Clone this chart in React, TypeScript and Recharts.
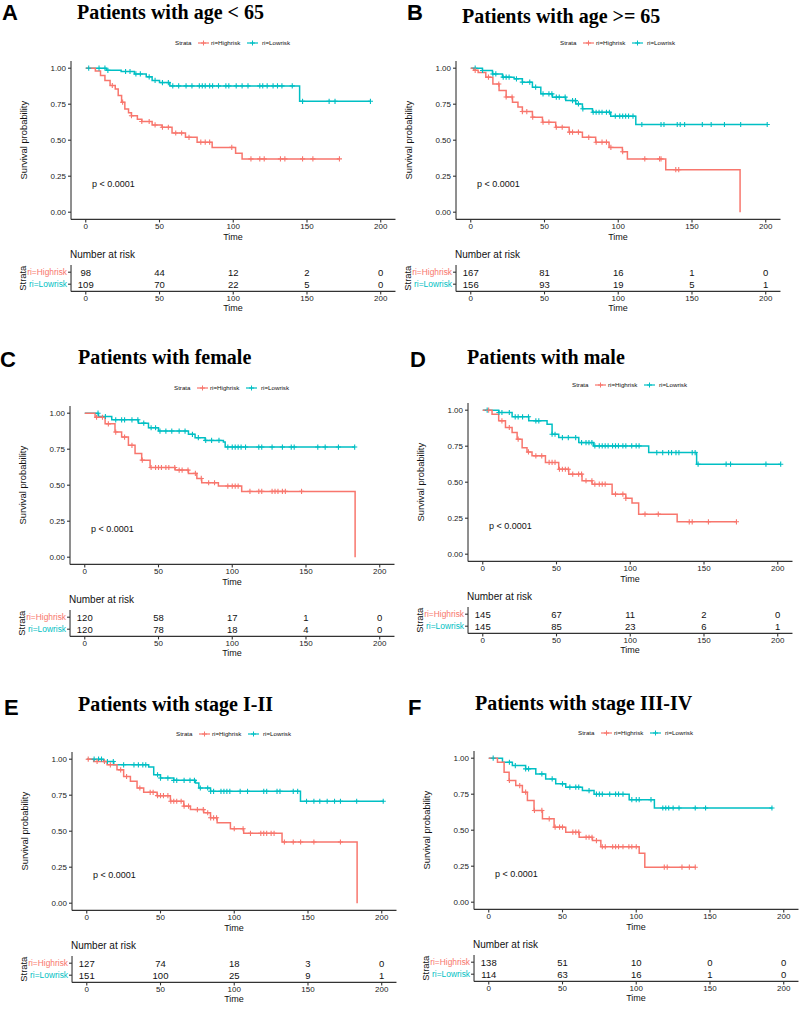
import React from 'react';
import { ComposedChart, ScatterChart, Line, Scatter, XAxis, YAxis } from 'recharts';

const RED = '#F8766D';
const BLUE = '#00BFC4';
const SANS = '"Liberation Sans", Arial, Helvetica, sans-serif';
const SERIF = '"Liberation Serif", "Times New Roman", serif';

const strata = ['ri=Highrisk', 'ri=Lowrisk'];
const timeTicks = [0, 50, 100, 150, 200];
const survTicks = [0, 0.25, 0.5, 0.75, 1];
const riskTimes = [0, 50, 100, 150, 200];

// A: age < 65
const aHighSteps = [[0, 1], [6.5, 0.98], [10, 0.95], [13, 0.915], [16.5, 0.88], [20, 0.856], [22, 0.81], [24.3, 0.764], [26.5, 0.717], [29, 0.69], [31, 0.67], [35, 0.645], [38, 0.63], [45, 0.606], [51.7, 0.59], [58.5, 0.55], [67.6, 0.52], [75.5, 0.486], [85.7, 0.45], [101.6, 0.41], [106, 0.37], [172, 0.37]];
const aLowSteps = [[0, 1], [14, 0.985], [24, 0.977], [33, 0.96], [41, 0.94], [45, 0.915], [50, 0.9], [57, 0.877], [145, 0.77], [193, 0.77]];
const aHighCensor = [18, 25, 31, 38, 43, 47, 52, 56, 61, 65, 70, 78, 81, 84, 99, 112, 118, 121, 132, 135, 147, 154, 172];
const aLowCensor = [2, 9, 13, 15, 27, 30, 34, 37, 43, 47, 52, 56, 59, 63, 68, 72, 77, 79, 81, 84, 86, 90, 95, 97, 102, 106, 110, 118, 120, 123, 127, 130, 133, 140, 147, 165, 169, 193];
const aRiskHigh = [98, 44, 12, 2, 0];
const aRiskLow = [109, 70, 22, 5, 0];

// B: age >= 65
const bHighSteps = [[0, 1], [2, 0.985], [5, 0.97], [10.2, 0.938], [15, 0.89], [19.2, 0.845], [24, 0.8], [28.3, 0.764], [32, 0.73], [35, 0.699], [41.8, 0.66], [48.6, 0.625], [57.6, 0.59], [66.7, 0.556], [75.7, 0.52], [84.7, 0.486], [93.8, 0.45], [102.8, 0.42], [106.2, 0.37], [132.2, 0.295], [182.6, 0]];
const bLowSteps = [[0, 1], [7.9, 0.984], [14.7, 0.96], [21.5, 0.938], [29.4, 0.926], [35, 0.903], [41.8, 0.868], [47.5, 0.822], [55.4, 0.799], [64.4, 0.775], [71.2, 0.752], [75.7, 0.718], [82.5, 0.694], [94.9, 0.667], [111.9, 0.609], [201, 0.609]];
const bHighCensor = [3, 12, 19, 24, 28, 35, 38, 42, 49, 53, 58, 62, 67, 69, 73, 80, 85, 89, 92, 95, 103, 118, 128, 129, 139, 141];
const bLowCensor = [3, 8, 15, 17, 22, 24, 26, 31, 35, 40, 44, 49, 53, 55, 58, 60, 64, 69, 71, 73, 76, 83, 85, 87, 89, 92, 94, 98, 101, 103, 105, 107, 110, 116, 129, 131, 140, 142, 145, 157, 163, 172, 183, 201];
const bRiskHigh = [167, 81, 16, 1, 0];
const bRiskLow = [156, 93, 19, 5, 1];

// C: female
const cHighSteps = [[0, 1], [7, 0.972], [13.8, 0.926], [20.5, 0.869], [25, 0.834], [29.6, 0.777], [34.1, 0.72], [38.6, 0.674], [44.3, 0.623], [61.3, 0.605], [70.3, 0.582], [76, 0.547], [79.3, 0.517], [90.6, 0.494], [106.4, 0.457], [183.3, 0]];
const cLowSteps = [[0, 1], [9.3, 0.977], [18.3, 0.954], [36.4, 0.931], [43.2, 0.899], [50, 0.876], [70.3, 0.853], [74.8, 0.83], [81.6, 0.811], [94, 0.8], [95.2, 0.765], [183.3, 0.765]];
const cHighCensor = [8, 12, 16, 21, 27, 32, 39, 45, 48, 50, 52, 55, 57, 61, 64, 66, 70, 75, 79, 84, 88, 97, 100, 102, 104, 112, 118, 120, 127, 129, 131, 134, 136, 147];
const cLowCensor = [9, 14, 21, 25, 27, 32, 36, 40, 45, 48, 51, 55, 59, 64, 68, 73, 77, 82, 86, 91, 97, 100, 102, 104, 106, 109, 118, 120, 127, 134, 140, 142, 158, 163, 172, 183];
const cRiskHigh = [120, 58, 17, 1, 0];
const cRiskLow = [120, 78, 18, 4, 0];

// D: male
const dHighSteps = [[0, 1], [6.3, 0.972], [10.8, 0.926], [15.4, 0.88], [19.9, 0.845], [23.3, 0.799], [26.7, 0.74], [30, 0.71], [33.4, 0.683], [42.5, 0.637], [51.5, 0.59], [58.3, 0.556], [67.3, 0.51], [74.1, 0.486], [87.7, 0.417], [97, 0.388], [101.2, 0.355], [105.7, 0.278], [131.8, 0.225], [172.4, 0.225]];
const dLowSteps = [[0, 1], [10.8, 0.984], [19.9, 0.954], [31.2, 0.926], [43.6, 0.903], [47, 0.833], [51.5, 0.81], [65.1, 0.775], [75.2, 0.752], [112.5, 0.706], [145, 0.625], [202, 0.625]];
const dHighCensor = [4, 13, 18, 24, 31, 36, 40, 45, 47, 49, 52, 54, 56, 58, 61, 65, 67, 70, 74, 76, 79, 81, 83, 90, 95, 97, 110, 119, 140, 142, 153, 172];
const dLowCensor = [3, 11, 13, 18, 22, 24, 27, 31, 36, 38, 47, 49, 54, 58, 63, 67, 70, 72, 74, 76, 79, 81, 83, 85, 88, 90, 92, 95, 97, 101, 104, 106, 118, 122, 126, 128, 131, 133, 142, 144, 146, 165, 168, 192, 202];
const dRiskHigh = [145, 67, 11, 2, 0];
const dRiskLow = [145, 85, 23, 6, 1];

// E: stage I-II
const eHighSteps = [[0, 1], [4.7, 0.984], [13.8, 0.961], [20.5, 0.926], [25, 0.88], [29.6, 0.846], [34.1, 0.8], [38.6, 0.77], [47.7, 0.747], [56.7, 0.708], [65.8, 0.674], [70.3, 0.65], [79.3, 0.628], [83.9, 0.593], [88.4, 0.559], [97.4, 0.517], [106.4, 0.485], [132.4, 0.425], [183.3, 0]];
const eLowSteps = [[0, 1], [11.5, 0.984], [18.3, 0.961], [42, 0.945], [45.4, 0.892], [50, 0.869], [59, 0.853], [73.7, 0.835], [76, 0.8], [83.9, 0.777], [144.9, 0.708], [201.4, 0.708]];
const eHighCensor = [1, 7, 12, 16, 23, 27, 36, 43, 45, 48, 50, 52, 55, 57, 59, 61, 64, 66, 69, 75, 79, 82, 84, 86, 88, 100, 106, 111, 118, 120, 122, 125, 127, 134, 140, 145, 154, 172];
const eLowCensor = [5, 8, 10, 14, 18, 25, 32, 35, 38, 40, 48, 50, 55, 59, 61, 66, 70, 73, 77, 82, 84, 86, 91, 93, 95, 97, 104, 109, 120, 122, 129, 131, 140, 143, 149, 154, 158, 163, 168, 172, 183, 201];
const eRiskHigh = [127, 74, 18, 3, 0];
const eRiskLow = [151, 100, 25, 9, 1];

// F: stage III-IV
const fHighSteps = [[0, 1], [5.9, 0.972], [10.4, 0.903], [13.8, 0.845], [18.3, 0.81], [22.8, 0.764], [26.2, 0.706], [30.7, 0.637], [36.4, 0.579], [44.3, 0.521], [52.2, 0.486], [61.3, 0.451], [70.3, 0.428], [76, 0.385], [102, 0.34], [105.8, 0.243], [140.4, 0.243]];
const fLowSteps = [[0, 1], [9.3, 0.972], [16, 0.949], [25, 0.926], [31.9, 0.891], [38.6, 0.856], [45.4, 0.822], [52.2, 0.799], [63.5, 0.775], [71.4, 0.75], [95.2, 0.712], [112.3, 0.654], [192.3, 0.654]];
const fHighCensor = [14, 21, 25, 31, 36, 41, 45, 48, 50, 57, 59, 61, 66, 68, 70, 73, 77, 79, 84, 86, 88, 91, 95, 97, 100, 119, 121, 131, 136, 140];
const fLowCensor = [3, 14, 18, 25, 27, 36, 43, 50, 55, 59, 61, 68, 73, 75, 77, 82, 86, 88, 91, 97, 100, 102, 110, 118, 120, 122, 125, 129, 140, 147, 192];
const fRiskHigh = [138, 51, 10, 0, 0];
const fRiskLow = [114, 63, 16, 1, 0];

const panels = [
  { letter: 'A', title: 'Patients with age < 65', high: aHighSteps, low: aLowSteps, highCensor: aHighCensor, lowCensor: aLowCensor, riskHigh: aRiskHigh, riskLow: aRiskLow },
  { letter: 'B', title: 'Patients with age >= 65', high: bHighSteps, low: bLowSteps, highCensor: bHighCensor, lowCensor: bLowCensor, riskHigh: bRiskHigh, riskLow: bRiskLow },
  { letter: 'C', title: 'Patients with female', high: cHighSteps, low: cLowSteps, highCensor: cHighCensor, lowCensor: cLowCensor, riskHigh: cRiskHigh, riskLow: cRiskLow },
  { letter: 'D', title: 'Patients with male', high: dHighSteps, low: dLowSteps, highCensor: dHighCensor, lowCensor: dLowCensor, riskHigh: dRiskHigh, riskLow: dRiskLow },
  { letter: 'E', title: 'Patients with stage I-II', high: eHighSteps, low: eLowSteps, highCensor: eHighCensor, lowCensor: eLowCensor, riskHigh: eRiskHigh, riskLow: eRiskLow },
  { letter: 'F', title: 'Patients with stage III-IV', high: fHighSteps, low: fLowSteps, highCensor: fHighCensor, lowCensor: fLowCensor, riskHigh: fRiskHigh, riskLow: fRiskLow },
];

// page positions: y-axis line x, top of plot area, title and letter baselines
const layout = {
  A: { x: 71, top: 61, titleX: 77, titleY: 19, letterX: 2, letterY: 20 },
  B: { x: 456, top: 61, titleX: 462, titleY: 23, letterX: 407, letterY: 20 },
  C: { x: 70, top: 406, titleX: 78, titleY: 364, letterX: 0, letterY: 367 },
  D: { x: 468, top: 403, titleX: 467, titleY: 364, letterX: 410, letterY: 367 },
  E: { x: 72, top: 752, titleX: 78, titleY: 711, letterX: 4, letterY: 715 },
  F: { x: 474, top: 751, titleX: 475, titleY: 710, letterX: 408, letterY: 715 },
};

const PLOT_W = 324.5;
const PLOT_H = 158.4;
const TABLE_H = 26.4;
const YW = 55;
const XH = 24;
const RIGHT = 6;

const survAt = (steps: number[][], t: number) => {
  let s = steps[0][1];
  for (const [ti, si] of steps) {
    if (ti <= t) s = si;
    else break;
  }
  return s;
};

const plusShape = (color: string) => (props: any) => {
  const { cx, cy } = props;
  if (cx == null || cy == null) return <g />;
  return <path d={`M${cx - 2.6},${cy}H${cx + 2.6}M${cx},${cy - 2.6}V${cy + 2.6}`} stroke={color} strokeWidth={1.1} />;
};

const axisStyle = { stroke: '#333', strokeWidth: 1.1 };
const tickText = { fontSize: 8, fill: '#222', fontFamily: SANS };

function SurvivalPlot({ p }: any) {
  const hi = p.high.map(([t, s]: number[]) => ({ t, s }));
  const lo = p.low.map(([t, s]: number[]) => ({ t, s }));
  const hiMarks = p.highCensor.map((t: number) => ({ t, s: survAt(p.high, t) }));
  const loMarks = p.lowCensor.map((t: number) => ({ t, s: survAt(p.low, t) }));
  return (
    <ComposedChart width={YW + PLOT_W + RIGHT} height={PLOT_H + XH} margin={{ top: 0, right: RIGHT, bottom: 0, left: 0 }}>
      <XAxis type="number" dataKey="t" domain={[-10, 210]} ticks={timeTicks} interval={0} allowDataOverflow height={XH}
        tickSize={3} tickMargin={1} tick={tickText} axisLine={axisStyle} tickLine={axisStyle} />
      <YAxis type="number" dataKey="s" domain={[-0.05, 1.05]} ticks={survTicks} interval={0} allowDataOverflow width={YW}
        tickSize={3} tickMargin={2} tick={tickText} axisLine={axisStyle} tickLine={axisStyle}
        tickFormatter={(v: number) => v.toFixed(2)} />
      <Line data={lo} dataKey="s" type="stepAfter" stroke={BLUE} strokeWidth={1.5} dot={false} isAnimationActive={false} />
      <Line data={hi} dataKey="s" type="stepAfter" stroke={RED} strokeWidth={1.5} dot={false} isAnimationActive={false} />
      <Scatter data={loMarks} dataKey="s" shape={plusShape(BLUE)} isAnimationActive={false} />
      <Scatter data={hiMarks} dataKey="s" shape={plusShape(RED)} isAnimationActive={false} />
    </ComposedChart>
  );
}

const RowTick = (props: any) => {
  const { x, y, payload } = props;
  const high = payload.value === 2;
  return (
    <text x={x} y={y} dy={3} textAnchor="end" fontSize={8.4} fontFamily={SANS} fill={high ? RED : BLUE}>
      {high ? strata[0] : strata[1]}
    </text>
  );
};

const NumberCell = (props: any) => {
  const { cx, cy, payload } = props;
  if (cx == null || cy == null) return <g />;
  return (
    <text x={cx} y={cy} dy={3.4} textAnchor="middle" fontSize={9.5} fontFamily={SANS} fill="#111">
      {payload.n}
    </text>
  );
};

function RiskTable({ p }: any) {
  const rows = [
    ...riskTimes.map((t, i) => ({ t, row: 2, n: p.riskHigh[i] })),
    ...riskTimes.map((t, i) => ({ t, row: 1, n: p.riskLow[i] })),
  ];
  return (
    <ScatterChart width={YW + PLOT_W + RIGHT} height={TABLE_H + XH} margin={{ top: 0, right: RIGHT, bottom: 0, left: 0 }}>
      <XAxis type="number" dataKey="t" domain={[-10, 210]} ticks={riskTimes} interval={0} allowDataOverflow height={XH}
        tickSize={3} tickMargin={1} tick={tickText} axisLine={axisStyle} tickLine={axisStyle} />
      <YAxis type="number" dataKey="row" domain={[0.4, 2.6]} ticks={[1, 2]} interval={0} allowDataOverflow width={YW}
        tickSize={3} tickMargin={1} tick={RowTick} axisLine={axisStyle} tickLine={axisStyle} />
      <Scatter data={rows} dataKey="row" shape={NumberCell} isAnimationActive={false} />
    </ScatterChart>
  );
}

function PlusMark({ x, y, color }: any) {
  return <path d={`M${x - 2.5},${y}H${x + 2.5}M${x},${y - 2.5}V${y + 2.5}`} stroke={color} strokeWidth={1} />;
}

function PanelText({ p }: any) {
  const L = (layout as any)[p.letter];
  const X = L.x;
  const T = L.top;
  const axisY = T + PLOT_H;
  const tableY = axisY + 72;
  const ly = T - 18;
  return (
    <g>
      <text x={L.letterX} y={L.letterY} fontFamily={SANS} fontWeight="bold" fontSize={22} fill="#000">{p.letter}</text>
      <text x={L.titleX} y={L.titleY} fontFamily={SERIF} fontWeight="bold" fontSize={20} fill="#000">{p.title}</text>
      <g fontFamily={SANS} fontSize={6.2} fill="#111">
        <text x={X + 104} y={ly + 2.2}>Strata</text>
        <line x1={X + 127} x2={X + 138} y1={ly} y2={ly} stroke={RED} strokeWidth={1.2} />
        <PlusMark x={X + 132.5} y={ly} color={RED} />
        <text x={X + 140} y={ly + 2.2}>{strata[0]}</text>
        <line x1={X + 176} x2={X + 187} y1={ly} y2={ly} stroke={BLUE} strokeWidth={1.2} />
        <PlusMark x={X + 181.5} y={ly} color={BLUE} />
        <text x={X + 191} y={ly + 2.2}>{strata[1]}</text>
      </g>
      <text transform={`translate(${X - 44},${T + PLOT_H / 2}) rotate(-90)`} textAnchor="middle" fontFamily={SANS} fontSize={9.4} fill="#111">Survival probability</text>
      <text x={X + 162} y={axisY + 21} textAnchor="middle" fontFamily={SANS} fontSize={9} fill="#111">Time</text>
      <text x={X + 21} y={T + 126.3} fontFamily={SANS} fontSize={9} fill="#111">p &lt; 0.0001</text>
      <text x={X - 1} y={axisY + 38.5} fontFamily={SANS} fontSize={10} fill="#111">Number at risk</text>
      <text transform={`translate(${X - 45},${tableY - TABLE_H / 2}) rotate(-90)`} textAnchor="middle" fontFamily={SANS} fontSize={9.4} fill="#111">Strata</text>
      <text x={X + 162} y={tableY + 19.5} textAnchor="middle" fontFamily={SANS} fontSize={9} fill="#111">Time</text>
    </g>
  );
}

export default function App() {
  return (
    <div style={{ position: 'absolute', left: 0, top: 0, width: 800, height: 1010, background: '#fff', overflow: 'hidden' }}>
      {panels.map((p) => {
        const L = (layout as any)[p.letter];
        return (
          <React.Fragment key={p.letter}>
            <div style={{ position: 'absolute', left: L.x - YW, top: L.top }}>
              <SurvivalPlot p={p} />
            </div>
            <div style={{ position: 'absolute', left: L.x - YW, top: L.top + PLOT_H + 72 - TABLE_H }}>
              <RiskTable p={p} />
            </div>
          </React.Fragment>
        );
      })}
      <svg width={800} height={1010} style={{ position: 'absolute', left: 0, top: 0, pointerEvents: 'none' }}>
        {panels.map((p) => <PanelText key={p.letter} p={p} />)}
      </svg>
    </div>
  );
}
